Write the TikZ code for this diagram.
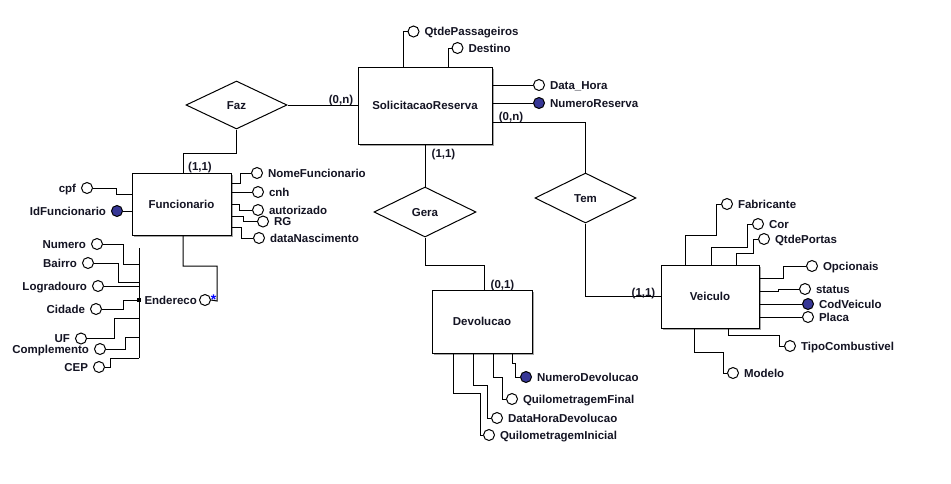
\documentclass[tikz,border=0pt]{standalone}
\usepackage{fontspec}
\setmainfont{Liberation Sans}
\usetikzlibrary{shapes.geometric,calc,shadows}
\definecolor{keyblue}{RGB}{55,55,150}
\definecolor{txt}{RGB}{20,20,35}
\definecolor{shadowc}{RGB}{165,165,165}
\newcommand\attrR[4]{\node[#4] (#1) at (#2) {};
  \node[lab,anchor=west] (#1t) at ([xshift=4.5pt]#1.east) {#3};}
\newcommand\attrL[4]{\node[#4] (#1) at (#2) {};
  \node[lab,anchor=east] (#1t) at ([xshift=-4.5pt]#1.west) {#3};}
\begin{document}
\begin{tikzpicture}[x=1pt,y=-1pt,line width=1pt,
  font=\fontsize{11.5}{13}\selectfont\bfseries,
  entity/.style={draw, line width=1pt, fill=white, inner sep=0, text=txt,
    text height=8.2pt, text depth=0pt,
    drop shadow={shadow xshift=2.2pt, shadow yshift=-2.2pt, opacity=1, fill=shadowc}},
  rel/.style={draw, diamond, inner sep=0, fill=white, text=txt, text height=8.2pt, text depth=0pt},
  attr/.style={circle, draw, fill=white, minimum size=11pt, inner sep=0},
  keyattr/.style={attr, fill=keyblue},
  lab/.style={inner sep=0, text=txt, text height=8.2pt, text depth=0pt},
  card/.style={lab, anchor=center}]
\useasboundingbox[fill=white] (0,0) rectangle (951,483);

% entities
\node[entity, minimum width=134pt, minimum height=77pt] (sol) at (425,105.5) {SolicitacaoReserva};
\node[entity, minimum width=99pt, minimum height=62pt] (fun) at (181.5,204) {Funcionario};
\node[entity, minimum width=98pt, minimum height=63pt] (vei) at (710,296.5) {Veiculo};
\node[entity, minimum width=100pt, minimum height=63pt] (dev) at (482,321.5) {Devolucao};

% relationships
\node[rel, minimum width=101pt, minimum height=48pt] (faz) at (236.5,105) {Faz};
\node[rel, minimum width=102pt, minimum height=50pt] (gera) at (425,212) {Gera};
\node[rel, minimum width=101pt, minimum height=50pt] (tem) at (585.5,198) {Tem};

% relationship connectors
\draw (faz.east) -- (sol.west |- faz.east);
\draw (faz.south) -- (236.5,153) -| ([xshift=1.5pt]fun.north);
\draw (sol.south) -- (gera.north);
\draw (gera.south) -- (425,265) -- (484,265) -- ($(dev.north)+(2,0)$);
\draw (sol.east |- 0,122) -| (tem.north);
\draw (tem.south) |- (vei.west);

% cardinalities
\node[card] (c1) at (341,99) {(0,n)};
\node[card] (c2) at (200,166) {(1,1)};
\node[card] (c3) at (443.5,153) {(1,1)};
\node[card] (c4) at (502.5,284.5) {(0,1)};
\node[card] (c5) at (511,116) {(0,n)};
\node[card] (c6) at (643.5,292) {(1,1)};

% SolicitacaoReserva attributes
\attrR{qtdp}{413.5,31.5}{QtdePassageiros}{attr}
\attrR{dest}{457.5,48}{Destino}{attr}
\attrR{dh}{539,85}{Data\_Hora}{attr}
\attrR{nres}{539,103}{NumeroReserva}{keyattr}
\draw ([xshift=-22pt]sol.north) |- (qtdp.west);
\draw ([xshift=23pt]sol.north) |- (dest.west);
\draw (sol.east |- dh) -- (dh.west);
\draw (sol.east |- nres) -- (nres.west);

% Funcionario attributes
\attrR{nome}{257,173}{NomeFuncionario}{attr}
\attrR{cnh}{258,192}{cnh}{attr}
\attrR{aut}{258,210}{autorizado}{attr}
\attrR{rg}{263,221.5}{RG}{attr}
\attrR{dn}{259,238}{dataNascimento}{attr}
\attrL{cpf}{87,188}{cpf}{attr}
\attrL{idf}{117,211}{IdFuncionario}{keyattr}
\draw (fun.east |- 0,183) -- (240,183) |- (nome.west);
\draw (fun.east |- cnh) -- (cnh.west);
\draw (fun.east |- 0,204) -- (239,204) |- (aut.west);
\draw (fun.east |- 0,216) -- (243,216) |- (rg.west);
\draw (fun.east |- 0,227) -- (241,227) |- (dn.west);
\draw (cpf.east) -- (116,188) |- (fun.west |- 0,194);
\draw (idf.east) -- (fun.west |- idf);

% Endereco (composite)
\node[fill=black, inner sep=0, minimum size=3.5pt] (endp) at (139,300) {};
\node[lab, anchor=west] (endt) at (144,300) {Endereco};
\node[attr] (endc) at (205,300) {};
\node[inner sep=0, text=blue, font=\fontsize{14}{14}\selectfont\bfseries] (ast) at (213.5,299.5) {*};
\draw ([xshift=1.5pt]fun.south) |- (217,266) -- (217,301) -- (endc.east);
\draw (endp |- 0,248) -- (endp |- 0,358);
\attrL{num}{97,244}{Numero}{attr}
\attrL{bai}{88,263}{Bairro}{attr}
\attrL{logr}{98,286}{Logradouro}{attr}
\attrL{cid}{96,309}{Cidade}{attr}
\attrL{uf}{81,338.5}{UF}{attr}
\attrL{comp}{100,349}{Complemento}{attr}
\attrL{cep}{99,367}{CEP}{attr}
\draw (num.east) -- (123,244) |- (endp |- 0,264);
\draw (bai.east) -- (118,263) |- (endp |- 0,282);
\draw (logr.east) -- (endp |- logr);
\draw (cid.east) -- (123,309) |- (endp.west);
\draw (uf.east) -- (114,338.5) |- (endp |- 0,318);
\draw (comp.east) -- (125,349) |- (endp |- 0,337);
\draw (cep.east) -- (110,367) |- (endp |- 0,358);

% Devolucao attributes
\attrR{ndev}{526,377}{NumeroDevolucao}{keyattr}
\attrR{qfin}{512,399}{QuilometragemFinal}{attr}
\attrR{dhd}{497,418}{DataHoraDevolucao}{attr}
\attrR{qini}{489,435}{QuilometragemInicial}{attr}
\draw ($(dev.south)+(30,0)$) -- (512,363) -- (515,363) |- (ndev.west);
\draw ($(dev.south)+(11,0)$) -- (493,377) -- (502,377) |- (qfin.west);
\draw ($(dev.south)+(-9,0)$) -- (473,385) -- (487,385) |- (dhd.west);
\draw ($(dev.south)+(-29,0)$) -- (453,393) -- (480,393) |- (qini.west);

% Veiculo attributes
\attrR{fab}{727,204}{Fabricante}{attr}
\attrR{cor}{758,224}{Cor}{attr}
\attrR{qp}{764,239}{QtdePortas}{attr}
\attrR{opc}{812,266}{Opcionais}{attr}
\attrR{stat}{805,289}{status}{attr}
\attrR{codv}{808,304}{CodVeiculo}{keyattr}
\attrR{placa}{808,317}{Placa}{attr}
\attrR{tipo}{790,346}{TipoCombustivel}{attr}
\attrR{mod}{733,373}{Modelo}{attr}
\draw ($(vei.north)+(-25,0)$) -- (685,235) -- (716,235) |- (fab.west);
\draw ($(vei.north)+(1,0)$) -- (711,247) -- (747,247) |- (cor.west);
\draw ($(vei.north)+(26,0)$) -- (736,253) -- (753,253) |- (qp.west);
\draw (vei.east |- 0,278) -- (783,278) |- (opc.west);
\draw (vei.east |- 0,291) -- (778,291) |- (stat.west);
\draw (vei.east |- codv) -- (codv.west);
\draw (vei.east |- placa) -- (placa.west);
\draw ($(vei.south)+(18,0)$) -- (728,335) -- (779,335) |- (tipo.west);
\draw ($(vei.south)+(-16,0)$) -- (694,352) -- (723,352) |- (mod.west);
\end{tikzpicture}
\end{document}
